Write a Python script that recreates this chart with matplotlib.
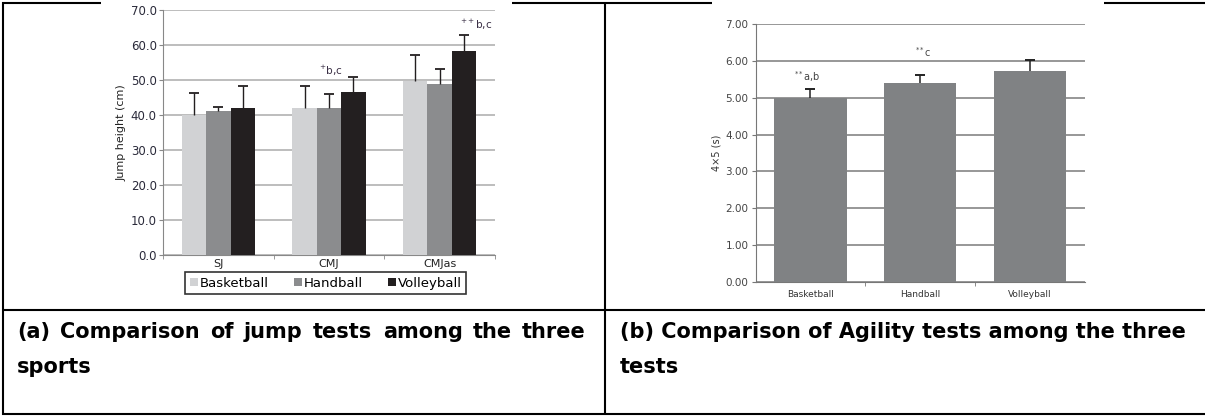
import numpy as np
import matplotlib
matplotlib.use("Agg")
import matplotlib.pyplot as plt
from matplotlib.lines import Line2D

# ---- data: (a) jump tests
jump_tests = ["SJ", "CMJ", "CMJas"]
sports = ["Basketball", "Handball", "Volleyball"]
basketball_mean = [40.0, 42.0, 49.8]
basketball_sd = [6.4, 6.3, 7.3]
handball_mean = [41.1, 41.9, 48.9]
handball_sd = [1.3, 4.2, 4.2]
volleyball_mean = [41.9, 46.7, 58.4]
volleyball_sd = [6.4, 4.2, 4.5]
jump_notes = ["", "$^{+}$b,c", "$^{++}$b,c"]

# ---- data: (b) agility test
agility_mean = [5.00, 5.40, 5.73]
agility_sd = [0.24, 0.22, 0.31]
agility_notes = ["$^{**}$a,b", "$^{**}$c", ""]

cap_a = ["(a)", "Comparison", "of", "jump", "tests", "among", "the", "three"]
cap_a2 = "sports"
cap_b = "(b) Comparison of Agility tests among the three"
cap_b2 = "tests"

W, H = 1205, 416
fig = plt.figure(figsize=(W / 100, H / 100), dpi=100)

# overlay in pixel coords for the table frame and captions
over = fig.add_axes([0, 0, 1, 1], zorder=5)
over.set_xlim(0, W)
over.set_ylim(H, 0)
over.axis("off")
over.patch.set_alpha(0)

frame_kw = dict(color="black", lw=1.5, solid_capstyle="butt")
for xs, ys in [((3, 3), (2, 415)), ((605, 605), (2, 415)),
               ((2, 101), (3, 3)), ((512, 712), (3, 3)), ((1104, 1205), (3, 3)),
               ((2, 1205), (310, 310)), ((2, 1205), (414, 414))]:
    over.add_line(Line2D(xs, ys, **frame_kw))


def up_errbars(axis, xs, tops, errs, color, lw, cap):
    # upper-only error bars, like the spreadsheet charts
    tops = np.asarray(tops)
    ends = tops + np.asarray(errs)
    axis.vlines(xs, tops, ends, color=color, lw=lw, zorder=4)
    axis.plot(xs, ends, ls="none", marker="_", ms=cap, mew=lw + 0.3, color=color, zorder=4)


# ---- panel (a)
ax = fig.add_axes([163 / W, 1 - 255 / H, 332 / W, 245 / H])
x = np.arange(len(jump_tests))
bw = 0.22
cols = ["#d1d2d4", "#8b8c8e", "#231f20"]
means = [basketball_mean, handball_mean, volleyball_mean]
sds = [basketball_sd, handball_sd, volleyball_sd]
for i in range(3):
    xi = x + (i - 1) * bw
    ax.bar(xi, means[i], bw, color=cols[i], label=sports[i], zorder=3)
    up_errbars(ax, xi, means[i], sds[i], "#231f20", 1.0, 7)
note_dx = [0, 0.018, 0.33]
note_dy = [0, 1.7, 2.7]
for j, note in enumerate(jump_notes):
    if note:
        top = volleyball_mean[j] + volleyball_sd[j]
        ax.text(x[j] + note_dx[j], top + note_dy[j], note, ha="center", va="center",
                fontsize=7.5, color="#3a2f45")
ax.set_xlim(-0.5, 2.5)
ax.set_ylim(0, 70)
ax.set_yticks(np.arange(0, 71, 10))
ax.set_yticklabels([f"{v:.1f}" for v in np.arange(0, 71, 10)])
ax.yaxis.grid(True, color="#ababab", lw=1.1, zorder=0)
ax.set_xticks(x)
ax.set_xticklabels(jump_tests)
ax.set_xticks([-0.5, 0.5, 1.5, 2.5], minor=True)
ax.tick_params(axis="x", which="major", length=0, labelsize=8, pad=3, labelcolor="#222")
ax.tick_params(axis="x", which="minor", length=3, color="#888")
ax.tick_params(axis="y", length=3, color="#888", labelsize=8.5, labelcolor="#2a2a3a", pad=1.5)
for s in ["top", "right"]:
    ax.spines[s].set_visible(False)
ax.spines["left"].set_color("#888")
ax.spines["bottom"].set_color("#888")
ax.set_ylabel("Jump height (cm)", fontsize=8, color="#222", labelpad=3)
leg = ax.legend(loc="upper center", bbox_to_anchor=(0.49, -0.07), ncol=3, fontsize=9.5,
                frameon=True, fancybox=False, edgecolor="black", handlelength=0.6,
                handleheight=0.6, handletextpad=0.15, columnspacing=1.9, borderpad=0.35,
                borderaxespad=0)
leg.get_frame().set_linewidth(1.2)

# ---- panel (b)
bx = fig.add_axes([755.5 / W, 1 - 281.7 / H, 329.5 / W, 257.4 / H])
xb = np.arange(len(sports))
bx.bar(xb, agility_mean, 0.66, color="#808284", zorder=3)
up_errbars(bx, xb, agility_mean, agility_sd, "#222", 1.1, 7)
bnote_dx = [-0.03, 0.03, 0]
bnote_dy = [0.35, 0.63, 0]
for j, note in enumerate(agility_notes):
    if note:
        bx.text(xb[j] + bnote_dx[j], agility_mean[j] + agility_sd[j] + bnote_dy[j], note,
                ha="center", va="center", fontsize=7, color="#444")
bx.set_xlim(-0.5, 2.5)
bx.set_ylim(0, 7)
bx.set_yticks(np.arange(0, 8, 1))
bx.set_yticklabels([f"{v:.2f}" for v in np.arange(0, 8, 1)])
bx.yaxis.grid(True, color="#7a7a7a", lw=1.1, zorder=0)
bx.set_xticks(xb)
bx.set_xticklabels(sports, family=["Liberation Sans Narrow", "DejaVu Sans"])
bx.set_xticks([0.5, 1.5], minor=True)
bx.tick_params(axis="x", which="major", length=0, labelsize=6.5, pad=6, labelcolor="#333")
bx.tick_params(axis="x", which="minor", length=3, color="#777")
bx.tick_params(axis="y", length=3, color="#777", labelsize=7.5, labelcolor="#444", pad=2)
for s in ["top", "right"]:
    bx.spines[s].set_visible(False)
bx.spines["left"].set_color("#777")
bx.spines["bottom"].set_color("#777")
bx.set_ylabel("4×5 (s)", fontsize=7, color="#333", labelpad=3)

# ---- captions (line (a) justified by measuring words)
cap_kw = dict(fontsize=15, fontweight="bold", color="black", va="baseline", ha="left",
              family="DejaVu Sans")
fig.canvas.draw()
rend = fig.canvas.get_renderer()
texts = [over.text(0, 338, w, **cap_kw) for w in cap_a]
widths = [t.get_window_extent(rend).width for t in texts]
x0, x1 = 17, 586
gap = (x1 - x0 - sum(widths)) / (len(texts) - 1)
pos = x0
for t, w in zip(texts, widths):
    t.set_x(pos)
    pos += w + gap
over.text(x0, 373, cap_a2, **cap_kw)
over.text(620, 338, cap_b, **cap_kw)
over.text(620, 373, cap_b2, **cap_kw)

fig.savefig("out.png", dpi=100)
